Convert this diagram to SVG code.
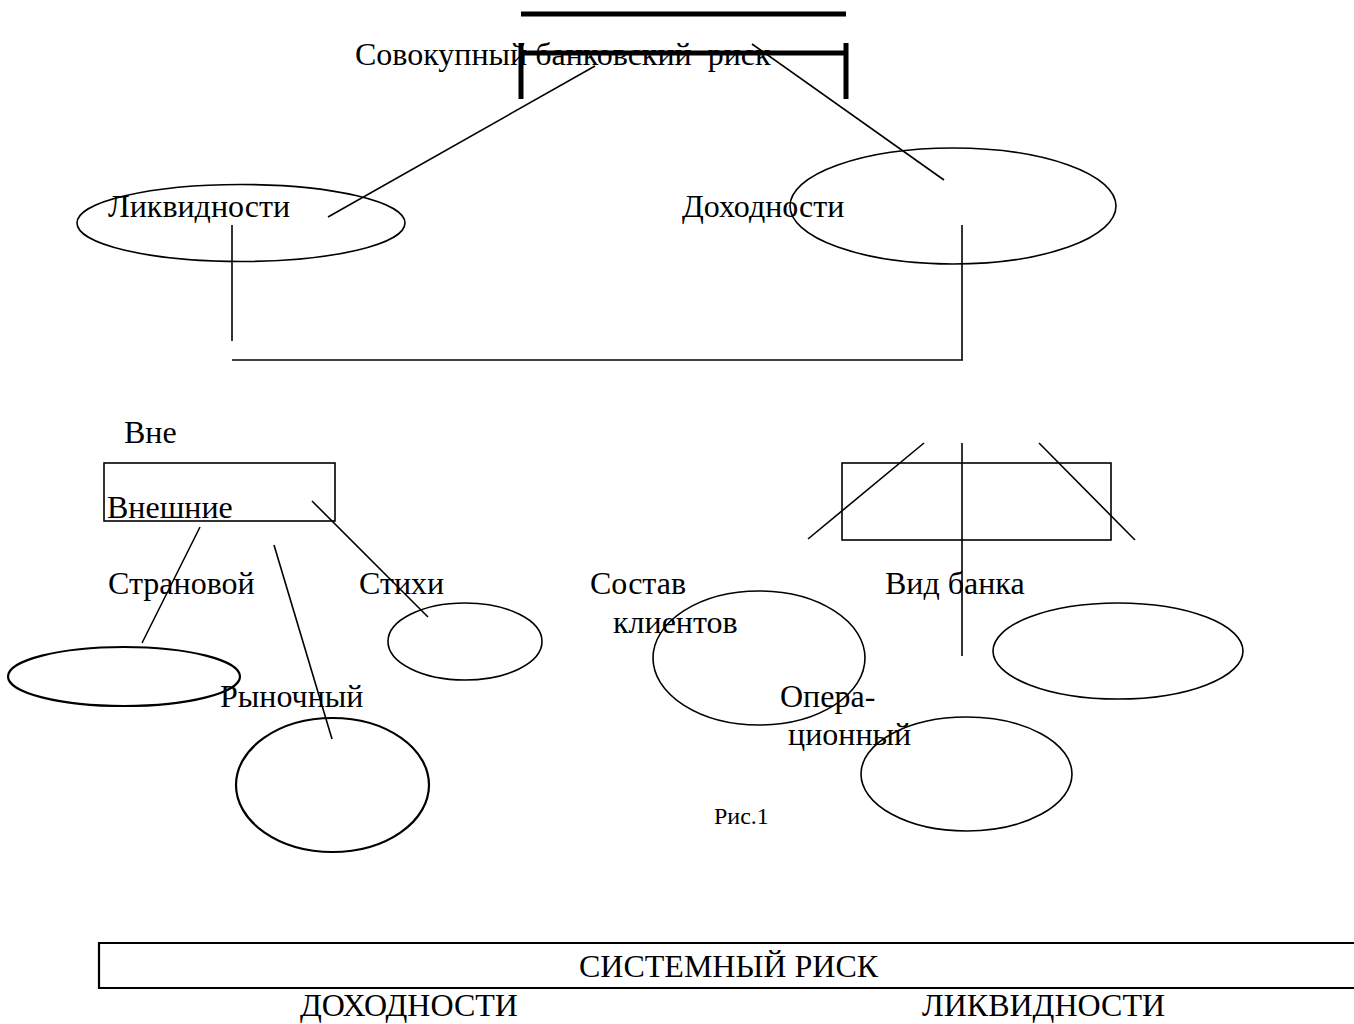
<svg xmlns="http://www.w3.org/2000/svg" width="1354" height="1024" viewBox="0 0 1354 1024">
<style>
text{font-family:"Liberation Serif","Times New Roman",serif;font-size:32px;fill:#000}
.s{fill:none;stroke:#000;stroke-width:1.6}
.sh{fill:none;stroke:#000;stroke-width:2.2}
.b{fill:none;stroke:#000;stroke-width:5}
.ln{stroke:#000;stroke-width:1.6;fill:none}
</style>
<rect width="1354" height="1024" fill="#fff"/>
<g id="total-risk">
<line class="b" x1="521" y1="14" x2="846" y2="14"/>
<path class="b" d="M521,43 V99 M846,43 V99 M521,53 H846"/>
<text x="355" y="65" xml:space="preserve">Совокупный банковский  риск</text>
</g>
<g id="liquidity">
<ellipse class="s" cx="241" cy="223" rx="164" ry="38.5"/>
<text x="108" y="217">Ликвидности</text>
</g>
<g id="profitability">
<ellipse class="s" cx="953" cy="206" rx="163" ry="58"/>
<text x="682" y="217">Доходности</text>
</g>
<g id="external">
<text x="124" y="443">Вне</text>
<rect class="s" x="104" y="463" width="231" height="58"/>
<text x="107" y="518">Внешние</text>
</g>
<g id="country">
<text x="108" y="594">Страновой</text>
<ellipse class="sh" cx="124" cy="676.5" rx="116" ry="29.5"/>
</g>
<g id="disaster">
<text x="359" y="594">Стихи</text>
<ellipse class="s" cx="465" cy="641.5" rx="77" ry="38.5"/>
</g>
<g id="market">
<text x="220" y="707">Рыночный</text>
<ellipse class="sh" cx="332.5" cy="785" rx="96.5" ry="67"/>
</g>
<g id="internal">
<rect class="s" x="842" y="463" width="269" height="77"/>
</g>
<g id="clients">
<text x="590" y="594">Состав</text>
<text x="613" y="633">клиентов</text>
<ellipse class="s" cx="759" cy="658" rx="106" ry="67"/>
</g>
<g id="bank-type">
<text x="885" y="594">Вид банка</text>
<ellipse class="s" cx="1118" cy="651" rx="125" ry="48"/>
</g>
<g id="operational">
<text x="780" y="707">Опера-</text>
<text x="788" y="745">ционный</text>
<ellipse class="s" cx="966.5" cy="774" rx="105.5" ry="57"/>
</g>
<g id="caption">
<text x="714" y="824" style="font-size:24px">Рис.1</text>
</g>
<g id="systemic">
<path class="sh" d="M1360,943 H99 V988 H1360"/>
<text x="579" y="977">СИСТЕМНЫЙ РИСК</text>
<text x="300" y="1016">ДОХОДНОСТИ</text>
<text x="922" y="1016">ЛИКВИДНОСТИ</text>
</g>
<g id="connectors">
<line class="ln" x1="595" y1="66" x2="328" y2="217"/>
<line class="ln" x1="752" y1="44" x2="944" y2="180"/>
<line class="ln" x1="232" y1="225" x2="232" y2="341"/>
<line class="ln" x1="962" y1="225" x2="962" y2="360"/>
<line class="ln" x1="232" y1="360" x2="963" y2="360"/>
<line class="ln" x1="200" y1="527" x2="142" y2="643"/>
<line class="ln" x1="274" y1="545" x2="332" y2="739"/>
<line class="ln" x1="312" y1="501" x2="428" y2="617"/>
<line class="ln" x1="924" y1="443" x2="808" y2="539"/>
<line class="ln" x1="962" y1="443" x2="962" y2="656"/>
<line class="ln" x1="1039" y1="443" x2="1135" y2="540"/>
</g>
</svg>
